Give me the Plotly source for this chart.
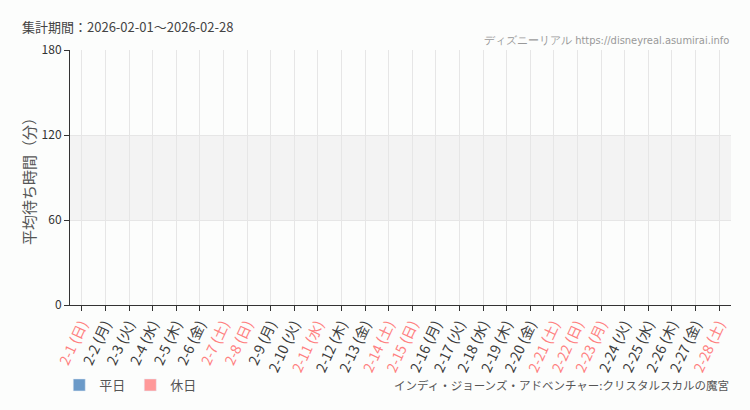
import plotly.graph_objects as go

categories = ["2-1", "2-2", "2-3", "2-4", "2-5", "2-6", "2-7", "2-8", "2-9", "2-10",
              "2-11", "2-12", "2-13", "2-14", "2-15", "2-16", "2-17", "2-18", "2-19", "2-20",
              "2-21", "2-22", "2-23", "2-24", "2-25", "2-26", "2-27", "2-28"]
weekdays = ["日", "月", "火", "水", "木", "金", "土", "日", "月", "火",
            "水", "木", "金", "土", "日", "月", "火", "水", "木", "金",
            "土", "日", "月", "火", "水", "木", "金", "土"]
is_holiday = [1, 0, 0, 0, 0, 0, 1, 1, 0, 0,
              1, 0, 0, 1, 1, 0, 0, 0, 0, 0,
              1, 1, 1, 0, 0, 0, 0, 1]
# no wait-time data recorded for this period
weekday_values = [None] * 28
holiday_values = [None] * 28
y_ticks = [0, 60, 120, 180]

FONT = "Noto Sans CJK JP, Noto Sans, sans-serif"
ticktext = []
for c, w, h in zip(categories, weekdays, is_holiday):
    col = "#ff8080" if h else "#3a3a3a"
    ticktext.append(f'<span style="color:{col}">{c} ({w})</span>')

fig = go.Figure()
fig.add_trace(go.Bar(x=categories, y=weekday_values, name="平日", marker_color="#6b9ac8"))
fig.add_trace(go.Bar(x=categories, y=holiday_values, name="休日", marker_color="#ff9999"))

fig.add_shape(type="rect", xref="paper", yref="y", x0=0, x1=1, y0=60, y1=120,
              fillcolor="#f3f3f3", line_width=0, layer="below")

fig.update_layout(
    width=750, height=410,
    margin=dict(l=70, r=19, t=50, b=105),
    paper_bgcolor="#fcfdfc", plot_bgcolor="#fcfdfc",
    font=dict(family=FONT, size=12, color="#333333"),
    showlegend=True,
    legend=dict(orientation="h", xref="container", x=0.079, xanchor="left",
                yref="container", y=0.061, yanchor="middle",
                font=dict(size=13, color="#555555"), bgcolor="rgba(0,0,0,0)"),
    xaxis=dict(type="category", categoryorder="array", categoryarray=categories,
               tickmode="array", tickvals=categories, ticktext=ticktext,
               tickangle=-65, ticks="outside", ticklen=5, tickcolor="#333333",
               showline=True, linecolor="#333333", linewidth=1, automargin=False,
               showgrid=True, gridcolor="#e6e6e6", gridwidth=1,
               tickfont=dict(size=14), range=[-0.5, 27.5]),
    yaxis=dict(range=[0, 180], tickvals=y_ticks, ticks="outside", ticklen=5,
               tickcolor="#333333", showline=True, linecolor="#333333", linewidth=1,
               showgrid=True, gridcolor="#e6e6e6", zeroline=False, automargin=False,
               tickfont=dict(size=12, color="#333333"),
               title=dict(text="平均待ち時間（分）", font=dict(size=15, color="#555555"), standoff=2)),
    annotations=[
        dict(text="集計期間：2026-02-01～2026-02-28", xref="paper", yref="paper",
             x=-0.0756, y=1.094, xanchor="left", yanchor="middle", showarrow=False,
             font=dict(size=13, color="#444444")),
        dict(text="ディズニーリアル https://disneyreal.asumirai.info", xref="paper", yref="paper",
             x=1.0, y=1.039, xanchor="right", yanchor="middle", showarrow=False,
             font=dict(size=11, color="#999999", family="Liberation Sans Narrow, DejaVu Sans Condensed, sans-serif")),
        dict(text="インディ・ジョーンズ・アドベンチャー:クリスタルスカルの魔宮", xref="paper", yref="paper",
             x=1.0, y=-0.314, xanchor="right", yanchor="middle", showarrow=False,
             font=dict(size=11.5, color="#555555")),
    ],
)

fig.write_html("out.html", config={"displayModeBar": False},
               post_script="document.body.style.margin='0';")
